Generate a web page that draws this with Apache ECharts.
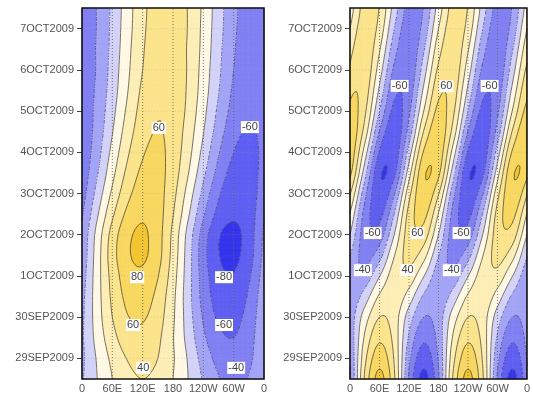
<!DOCTYPE html>
<html>
<head>
<meta charset="utf-8">
<script src="https://cdn.jsdelivr.net/npm/echarts@6/dist/echarts.min.js"></script>
<style>
  html, body { margin: 0; padding: 0; background: #fff; }
  #chart { width: 533px; height: 398px; }
</style>
</head>
<body>
<div id="chart"></div>
<script>
// Grid of the field: longitude columns (deg east) and time rows (days after 29SEP2009 00Z)
const lons = [0, 30, 60, 90, 120, 150, 180, 210, 240, 270, 300, 330];
const days = [-0.5, 0, 0.5, 1, 1.5, 2, 2.5, 3, 3.5, 4, 4.5, 5, 5.5, 6, 6.5, 7, 7.5, 8, 8.5];

// Wavenumber-1 panel, one row per time (bottom row first)
const waveOne = [
  [-22,   0,  20,  35,  40,  35,  20,   0, -22, -39, -45, -39],
  [-24,   2,  25,  41,  47,  40,  22,  -2, -28, -46, -52, -44],
  [-23,   7,  33,  51,  55,  44,  21,  -7, -36, -55, -60, -48],
  [-24,  10,  40,  59,  62,  49,  23, -10, -42, -63, -66, -52],
  [-26,  11,  44,  65,  69,  54,  25, -12, -47, -69, -73, -57],
  [-30,  11,  47,  71,  76,  61,  29, -11, -49, -74, -79, -63],
  [-34,  10,  51,  77,  83,  67,  33, -10, -52, -79, -84, -69],
  [-36,   7,  48,  75,  83,  68,  35,  -7, -49, -78, -85, -70],
  [-42,  -3,  36,  65,  77,  68,  41,   3, -37, -66, -77, -70],
  [-48, -13,  24,  54,  70,  67,  46,  12, -26, -57, -74, -70],
  [-52, -22,  14,  45,  64,  66,  50,  21, -15, -47, -67, -68],
  [-54, -28,   6,  37,  58,  64,  52,  27,  -6, -38, -60, -66],
  [-54, -32,  -1,  30,  52,  61,  53,  31,   1, -30, -53, -62],
  [-53, -34,  -6,  24,  48,  59,  54,  35,   6, -24, -47, -58],
  [-53, -36, -10,  19,  44,  56,  54,  37,  10, -19, -43, -55],
  [-53, -38, -12,  16,  40,  54,  53,  38,  12, -16, -40, -54],
  [-52, -38, -14,  14,  38,  52,  52,  38,  14, -14, -38, -52],
  [-52, -39, -15,  12,  36,  51,  52,  39,  15, -12, -36, -51],
  [-51, -39, -16,  11,  35,  49,  51,  39,  16, -11, -35, -49]
];

// Wavenumber-2 panel, one row per time (bottom row first)
const waveTwo = [
  [-43,  43,  86,  43, -43, -86, -43,  43,  86,  43, -43, -86],
  [-38,  34,  72,  38, -34, -72, -38,  34,  72,  38, -34, -72],
  [-33,  23,  56,  33, -23, -56, -33,  23,  56,  33, -23, -56],
  [-30,  10,  40,  30, -10, -40, -30,  10,  40,  30, -10, -40],
  [-34, -11,  23,  34,  11, -23, -34, -11,  23,  34,  11, -23],
  [-31, -33,  -1,  31,  33,   1, -31, -33,  -1,  31,  33,   1],
  [-19, -47, -28,  19,  47,  28, -19, -47, -28,  19,  47,  28],
  [  0, -51, -51,   0,  51,  51,   0, -51, -51,   0,  51,  51],
  [ 19, -47, -66, -19,  47,  66,  19, -47, -66, -19,  47,  66],
  [ 42, -33, -76, -42,  33,  76,  42, -33, -76, -42,  33,  76],
  [ 65, -11, -77, -65,  11,  77,  65, -11, -77, -65,  11,  77],
  [ 73,  11, -62, -73, -11,  62,  73,  11, -62, -73, -11,  62],
  [ 73,  32, -41, -73, -32,  41,  73,  32, -41, -73, -32,  41],
  [ 65,  44, -20, -65, -44,  20,  65,  44, -20, -65, -44,  20],
  [ 55,  51,  -4, -55, -51,   4,  55,  51,  -4, -55, -51,   4],
  [ 44,  55,  10, -44, -55, -10,  44,  55,  10, -44, -55, -10],
  [ 32,  55,  22, -32, -55, -22,  32,  55,  22, -32, -55, -22],
  [ 20,  52,  33, -20, -52, -33,  20,  52,  33, -20, -52, -33],
  [  9,  48,  39,  -9, -48, -39,   9,  48,  39,  -9, -48, -39]
];

// Contour levels and shading colours (one colour per band between levels)
const levels = [-80, -60, -40, -20, 0, 20, 40, 60, 80];
const shades = ['#3535ee', '#6060f2', '#8282f4', '#a5a5f7', '#d3d3fa',
                '#fff9e6', '#fdefb7', '#fbe48d', '#f8d862', '#f4c632'];

// Axis tick labels
const tickDays = [0, 1, 2, 3, 4, 5, 6, 7, 8];
const dayLabels = ['29SEP2009', '30SEP2009', '1OCT2009', '2OCT2009', '3OCT2009',
                   '4OCT2009', '5OCT2009', '6OCT2009', '7OCT2009'];
const lonLabels = ['0', '60E', '120E', '180', '120W', '60W', '0'];

// Contour labels: [lon, day, level]
const labelsOne = [
  [152, 5.59, 60], [332, 5.61, -60],
  [109, 1.97, 80], [281, 1.97, -80],
  [101, 0.81, 60], [281, 0.81, -60],
  [121, -0.23, 40], [305, -0.23, -40]
];
const labelsTwo = [
  [46, 3.04, -60], [137, 3.04, 60], [227, 3.04, -60],
  [26, 2.14, -40], [117, 2.14, 40], [207, 2.14, -40],
  [101, 6.61, -60], [284, 6.61, -60], [196, 6.6, 60]
];

// ---- smooth field evaluation (periodic in longitude, clamped in time) ----
function catmull(p0, p1, p2, p3, t) {
  const t2 = t * t, t3 = t2 * t;
  return 0.5 * (2 * p1 + (-p0 + p2) * t + (2 * p0 - 5 * p1 + 4 * p2 - p3) * t2 +
                (-p0 + 3 * p1 - 3 * p2 + p3) * t3);
}
function makeField(rows) {
  const nx = lons.length, ny = days.length;
  const dLon = 360 / nx, dDay = days[1] - days[0];
  return function (lon, day) {
    let u = (lon - lons[0]) / dLon;
    u = ((u % nx) + nx) % nx;
    const i = Math.floor(u), s = u - i;
    let w = (day - days[0]) / dDay;
    w = Math.max(0, Math.min(ny - 1, w));
    let j = Math.floor(w);
    if (j >= ny - 1) j = ny - 2;
    const t = w - j;
    const rowAt = r => {
      const R = rows[Math.max(0, Math.min(ny - 1, r))];
      return catmull(R[(i - 1 + nx) % nx], R[i], R[(i + 1) % nx], R[(i + 2) % nx], s);
    };
    return catmull(rowAt(j - 1), rowAt(j), rowAt(j + 1), rowAt(j + 2), t);
  };
}

// ---- polygon clipping by value (for filled bands) ----
function clip(poly, level, keepAbove) {
  const out = [];
  for (let k = 0; k < poly.length; k++) {
    const A = poly[k], B = poly[(k + 1) % poly.length];
    const ina = keepAbove ? A[2] >= level : A[2] <= level;
    const inb = keepAbove ? B[2] >= level : B[2] <= level;
    if (ina) out.push(A);
    if (ina !== inb) {
      const t = (level - A[2]) / (B[2] - A[2]);
      out.push([A[0] + (B[0] - A[0]) * t, A[1] + (B[1] - A[1]) * t, level]);
    }
  }
  return out;
}

const SUB_X = 6, SUB_Y = 4;

function cellPoints(field, api) {
  const lon0 = api.value(0), day0 = api.value(1), lon1 = api.value(2), day1 = api.value(3);
  const pts = [];
  for (let b = 0; b <= SUB_Y; b++) {
    const row = [];
    for (let a = 0; a <= SUB_X; a++) {
      const lon = lon0 + (lon1 - lon0) * a / SUB_X;
      const day = day0 + (day1 - day0) * b / SUB_Y;
      const p = api.coord([lon, day]);
      row.push([p[0], p[1], field(lon, day)]);
    }
    pts.push(row);
  }
  const tris = [];
  for (let b = 0; b < SUB_Y; b++) {
    for (let a = 0; a < SUB_X; a++) {
      const p00 = pts[b][a], p10 = pts[b][a + 1], p01 = pts[b + 1][a], p11 = pts[b + 1][a + 1];
      tris.push([p00, p10, p11], [p00, p11, p01]);
    }
  }
  return tris;
}

function fillRenderer(field) {
  return function (params, api) {
    const tris = cellPoints(field, api);
    const paths = shades.map(() => '');
    for (const tri of tris) {
      const vmin = Math.min(tri[0][2], tri[1][2], tri[2][2]);
      const vmax = Math.max(tri[0][2], tri[1][2], tri[2][2]);
      for (let k = 0; k < shades.length; k++) {
        const lo = k === 0 ? -Infinity : levels[k - 1];
        const hi = k === levels.length ? Infinity : levels[k];
        if (vmax < lo || vmin > hi) continue;
        let poly = tri;
        if (isFinite(lo)) poly = clip(poly, lo, true);
        if (poly.length >= 3 && isFinite(hi)) poly = clip(poly, hi, false);
        if (poly.length < 3) continue;
        let d = 'M' + poly[0][0].toFixed(2) + ' ' + poly[0][1].toFixed(2);
        for (let q = 1; q < poly.length; q++) d += 'L' + poly[q][0].toFixed(2) + ' ' + poly[q][1].toFixed(2);
        paths[k] += d + 'Z';
      }
    }
    const children = [];
    paths.forEach((d, k) => {
      if (d) children.push({
        type: 'path', shape: { pathData: d },
        style: { fill: shades[k], stroke: shades[k], lineWidth: 0.6 }
      });
    });
    return { type: 'group', children: children, silent: true };
  };
}

function contourRenderer(field) {
  return function (params, api) {
    const tris = cellPoints(field, api);
    const paths = levels.map(() => '');
    for (const tri of tris) {
      const vmin = Math.min(tri[0][2], tri[1][2], tri[2][2]);
      const vmax = Math.max(tri[0][2], tri[1][2], tri[2][2]);
      levels.forEach((L, k) => {
        if (L < vmin || L > vmax) return;
        const c = [];
        for (let e = 0; e < 3; e++) {
          const A = tri[e], B = tri[(e + 1) % 3];
          if ((A[2] > L) !== (B[2] > L)) {
            const t = (L - A[2]) / (B[2] - A[2]);
            c.push([A[0] + (B[0] - A[0]) * t, A[1] + (B[1] - A[1]) * t]);
          }
        }
        if (c.length === 2) {
          paths[k] += 'M' + c[0][0].toFixed(2) + ' ' + c[0][1].toFixed(2) +
                      'L' + c[1][0].toFixed(2) + ' ' + c[1][1].toFixed(2);
        }
      });
    }
    const children = [];
    paths.forEach((d, k) => {
      if (!d) return;
      const neg = levels[k] < 0;
      children.push({
        type: 'path', shape: { pathData: d },
        style: { fill: null, stroke: neg ? '#33336a' : '#3a3a3a', lineWidth: 0.7,
                 lineDash: neg ? [1.3, 1.4] : null }
      });
    });
    return { type: 'group', children: children, silent: true };
  };
}

function frameRenderer(params, api) {
  const children = [];
  for (let lon = 60; lon < 360; lon += 60) {
    const p = api.coord([lon, -0.5]), q = api.coord([lon, 8.5]);
    children.push({ type: 'line', shape: { x1: p[0], y1: p[1], x2: q[0], y2: q[1] },
      style: { stroke: '#5a5a5a', lineWidth: 0.8, lineDash: [1, 2] } });
  }
  tickDays.forEach(d => {
    const p = api.coord([0, d]), q = api.coord([360, d]);
    children.push({ type: 'line', shape: { x1: p[0], y1: p[1], x2: q[0], y2: q[1] },
      style: { stroke: 'rgba(150,150,150,0.35)', lineWidth: 0.8, lineDash: [1, 2] } });
  });
  const a = api.coord([0, 8.5]), b = api.coord([360, -0.5]);
  children.push({ type: 'rect', shape: { x: a[0], y: a[1], width: b[0] - a[0], height: b[1] - a[1] },
    style: { fill: null, stroke: '#111', lineWidth: 1.6 } });
  return { type: 'group', children: children, silent: true };
}

// contour value labels in white boxes
function labelRenderer(params, api) {
  const p = api.coord([api.value(0), api.value(1)]);
  return {
    type: 'text', x: p[0], y: p[1], silent: true,
    style: { text: String(api.value(2)), fill: '#444', font: '11px "Liberation Sans"',
             align: 'center', verticalAlign: 'middle', backgroundColor: '#fff', padding: [1, 1, 0, 1] }
  };
}

// coarse cells: [lonStart, dayStart, lonEnd, dayEnd]
const cells = [];
for (let j = 0; j < days.length - 1; j++) {
  for (let i = 0; i < lons.length; i++) {
    cells.push([lons[i], days[j], i + 1 < lons.length ? lons[i + 1] : 360, days[j + 1]]);
  }
}

const fieldOne = makeField(waveOne);
const fieldTwo = makeField(waveTwo);
const font = 'Liberation Sans';

function xAxisFor(g) {
  return {
    type: 'value', gridIndex: g, min: 0, max: 360, interval: 60,
    axisLine: { show: false }, axisTick: { show: false }, splitLine: { show: false },
    axisLabel: { formatter: v => lonLabels[Math.round(v / 60)], color: '#555', fontSize: 11,
                 fontFamily: font, margin: 4, showMinLabel: true, showMaxLabel: true }
  };
}
function yAxisFor(g) {
  return {
    type: 'value', gridIndex: g, min: -0.5, max: 8.5,
    axisLine: { show: false }, splitLine: { show: false },
    axisTick: { show: true, length: 5, customValues: tickDays, lineStyle: { color: '#444', width: 1 } },
    axisLabel: { customValues: tickDays, formatter: v => dayLabels[Math.round(v)] || '',
                 color: '#555', fontSize: 11, fontFamily: font, margin: 8 }
  };
}
function panelSeries(g, field, labels) {
  return [
    { type: 'custom', xAxisIndex: g, yAxisIndex: g, data: cells, encode: { x: [0, 2], y: [1, 3] },
      renderItem: fillRenderer(field), z: 1, silent: true },
    { type: 'custom', xAxisIndex: g, yAxisIndex: g, data: cells, encode: { x: [0, 2], y: [1, 3] },
      renderItem: contourRenderer(field), z: 2, silent: true },
    { type: 'custom', xAxisIndex: g, yAxisIndex: g, data: [[0, 0]],
      renderItem: frameRenderer, z: 3, silent: true },
    { type: 'custom', xAxisIndex: g, yAxisIndex: g, data: labels,
      dimensions: ['lon', 'day', 'level'], encode: { x: 0, y: 1 },
      renderItem: labelRenderer, z: 4, silent: true }
  ];
}

const chart = echarts.init(document.getElementById('chart'), null, { renderer: 'canvas' });
chart.setOption({
  animation: false,
  backgroundColor: '#fff',
  grid: [
    { left: 82, right: 269, top: 8, bottom: 19 },
    { left: 350, right: 2, top: 8, bottom: 19 }
  ],
  xAxis: [xAxisFor(0), xAxisFor(1)],
  yAxis: [yAxisFor(0), yAxisFor(1)],
  series: [].concat(panelSeries(0, fieldOne, labelsOne), panelSeries(1, fieldTwo, labelsTwo))
});
</script>
</body>
</html>
